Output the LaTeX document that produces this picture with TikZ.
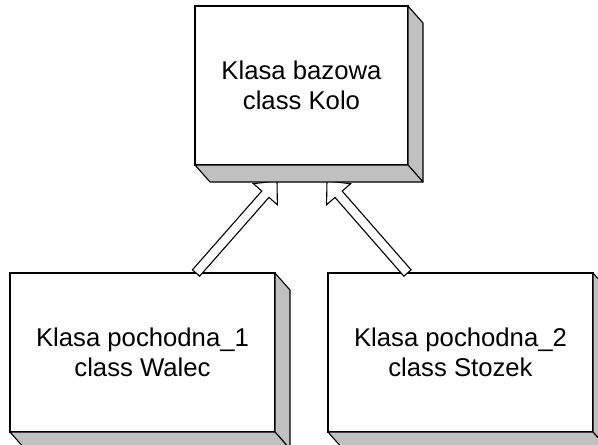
\documentclass[tikz,border=0pt]{standalone}
\usepackage{fontspec}
\setmainfont{Liberation Sans}
\usetikzlibrary{calc}
\definecolor{sidegray}{RGB}{192,192,192}

\tikzset{
  face/.style={draw=black, fill=white, line width=1.1pt, inner sep=0pt, outer sep=0pt,
               align=center, font=\fontsize{25.7pt}{30pt}\selectfont},
  basebox/.style={face, minimum width=213pt, minimum height=159pt},
  derbox/.style={face, minimum width=265pt, minimum height=159pt},
  depthface/.style={draw=black, fill=sidegray, line width=1.1pt, line join=round},
  hollowarrow/.style={draw=black, fill=white, line width=1.1pt, line join=miter},
}

% shaded right and bottom faces of a box node
\newcommand\solidsides[1]{%
  \path[depthface] (#1.north east) -- ++(15,17) -- ($(#1.south east)+(15,17)$) -- (#1.south east) -- cycle;
  \path[depthface] (#1.south west) -- ++(15,17) -- ($(#1.south east)+(15,17)$) -- (#1.south east) -- cycle;
}

% wide outlined arrow from tail #1 to tip #2
\newcommand\inheritarrow[2]{%
  \coordinate (#1-base) at ($(#2)!17.6pt!(#1)$);
  \path[hollowarrow]
    ($(#1)!4.8pt!90:(#2)$) --
    ($(#1-base)!4.8pt!90:(#2)$) --
    ($(#1-base)!16pt!90:(#2)$) --
    (#2) --
    ($(#1-base)!16pt!-90:(#2)$) --
    ($(#1-base)!4.8pt!-90:(#2)$) --
    ($(#1)!4.8pt!-90:(#2)$) -- cycle;
}

\begin{document}
\begin{tikzpicture}[x=1pt, y=-1pt]
  \useasboundingbox (0,0) rectangle (598,445);
  \clip (0,0) rectangle (598,445);

  % derived classes
  \node[derbox] (walec) at (142.5,352.5) {Klasa pochodna\_1\\class Walec};
  \solidsides{walec}
  \node[derbox] (stozek) at (460.5,352.5) {Klasa pochodna\_2\\class Stozek};
  \solidsides{stozek}

  % base class placement (needed for arrow tips)
  \path (301.5,85.5) node[basebox, draw=none, fill=none] (kolo) {};

  % inheritance arrows
  \coordinate (t1) at ($(walec.north west)!0.702!(walec.north east)$);
  \coordinate (h1) at ($(kolo.south west)+(82,16)$);
  \coordinate (t2) at ($(stozek.north west)!0.3!(stozek.north east)$);
  \coordinate (h2) at ($(kolo.south east)+(-81,16)$);
  \inheritarrow{t1}{h1}
  \inheritarrow{t2}{h2}

  % base class drawn over the arrow tips
  \node[basebox] (kolobox) at (kolo) {Klasa bazowa\\class Kolo};
  \solidsides{kolobox}
\end{tikzpicture}
\end{document}
